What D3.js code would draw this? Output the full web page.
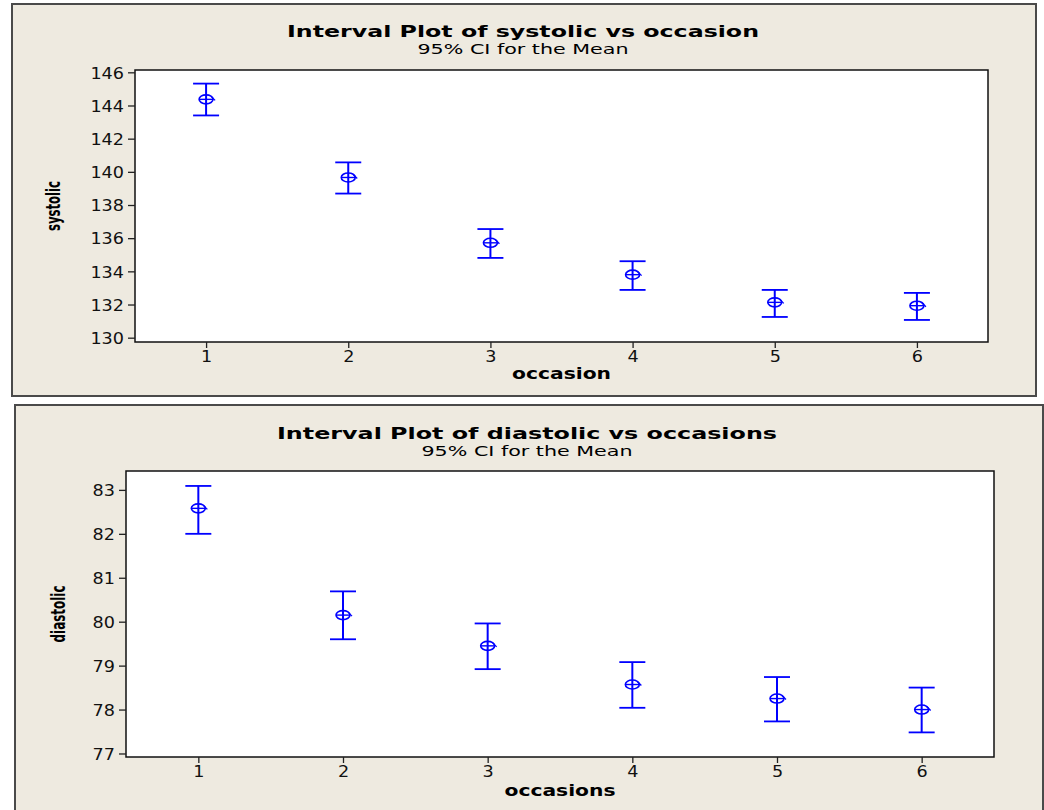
<!DOCTYPE html>
<html>
<head>
<meta charset="utf-8">
<script src="https://cdn.jsdelivr.net/npm/d3@7"></script>
<style>
  body { margin: 0; background: #ffffff; }
  svg { display: block; }
  .tick text { font-family: "DejaVu Sans", Verdana, sans-serif; font-size: 16px; fill: #111; }
</style>
</head>
<body>
<div id="chart"></div>
<script>
// occasions on the x axis
const occasions = [1, 2, 3, 4, 5, 6];

// systolic: mean and 95% CI limits
const sysMean  = [144.37, 139.66, 135.72, 133.80, 132.13, 131.93];
const sysLower = [143.40, 138.69, 134.81, 132.88, 131.25, 131.07];
const sysUpper = [145.32, 140.57, 136.55, 134.61, 132.88, 132.70];
const sysTicks = [130, 132, 134, 136, 138, 140, 142, 144, 146];

// diastolic: mean and 95% CI limits
const diaMean  = [82.58, 80.15, 79.45, 78.57, 78.25, 78.00];
const diaLower = [82.00, 79.60, 78.92, 78.04, 77.73, 77.48];
const diaUpper = [83.09, 80.69, 79.96, 79.08, 78.74, 78.50];
const diaTicks = [77, 78, 79, 80, 81, 82, 83];

const width = 1044, height = 810;
const blue = "#0000ff";

const svg = d3.select("#chart")
    .append("svg")
    .attr("width", width)
    .attr("height", height);

// Title Stretch
// Description widens text horizontally (the source picture is wider than the font)
function stretch(sel, k) {
    sel.each(function() {
        const l = this.getComputedTextLength();
        d3.select(this)
            .attr("textLength", l * k)
            .attr("lengthAdjust", "spacingAndGlyphs");
    });
}

// Title Interval Panel
// Description draws one framed Minitab-style interval plot
function intervalPanel(attr) {

    const g = svg.append("g");

    // outer frame
    g.append("rect")
        .attr("x", attr.frame.x)
        .attr("y", attr.frame.y)
        .attr("width", attr.frame.w)
        .attr("height", attr.frame.h)
        .attr("fill", "#eeeae0")
        .attr("stroke", "#4a4a4a")
        .attr("stroke-width", 2);

    const p = attr.plot;

    // titles
    g.append("text")
        .attr("x", attr.titleX)
        .attr("y", attr.titleY)
        .attr("text-anchor", "middle")
        .attr("textLength", attr.titleW)
        .attr("lengthAdjust", "spacingAndGlyphs")
        .style("font-family", "'DejaVu Sans', Verdana, sans-serif")
        .style("font-weight", "bold")
        .style("font-size", "15.5px")
        .text(attr.title);

    g.append("text")
        .attr("x", attr.titleX)
        .attr("y", attr.titleY + 17)
        .attr("text-anchor", "middle")
        .attr("textLength", 211)
        .attr("lengthAdjust", "spacingAndGlyphs")
        .style("font-family", "'DejaVu Sans', Verdana, sans-serif")
        .style("font-size", "14px")
        .text("95% CI for the Mean");

    // scales
    const xScale = d3.scaleLinear()
        .domain([0.5, 6.5])
        .range([p.left, p.right]);

    const yScale = d3.scaleLinear()
        .domain(attr.yDomain)
        .range([p.bottom, p.top]);

    // plot area
    g.append("rect")
        .attr("x", p.left)
        .attr("y", p.top)
        .attr("width", p.right - p.left)
        .attr("height", p.bottom - p.top)
        .attr("fill", "white")
        .attr("stroke", "#111")
        .attr("stroke-width", 1.5);

    // axes
    const xAxis = g.append("g")
        .attr("transform", `translate(0,${p.bottom})`)
        .call(d3.axisBottom(xScale).tickValues(occasions).tickSize(6).tickPadding(3).tickFormat(d3.format("d")));

    const yAxis = g.append("g")
        .attr("transform", `translate(${p.left},0)`)
        .call(d3.axisLeft(yScale).tickValues(attr.yTicks).tickSize(7).tickPadding(4).tickFormat(d3.format("d")));

    [xAxis, yAxis].forEach(function(a) {
        a.select(".domain").remove();
        a.selectAll(".tick line").attr("stroke", "#222").attr("stroke-width", 1.3);
        stretch(a.selectAll(".tick text"), 1.1);
    });
    yAxis.selectAll(".tick text").attr("dy", "0.36em");

    // axis labels
    g.append("text")
        .attr("x", (p.left + p.right) / 2)
        .attr("y", attr.xLabY)
        .attr("text-anchor", "middle")
        .attr("textLength", attr.xLabW)
        .attr("lengthAdjust", "spacingAndGlyphs")
        .style("font-family", "'DejaVu Sans', Verdana, sans-serif")
        .style("font-weight", "bold")
        .style("font-size", "15px")
        .text(attr.xLab);

    g.append("text")
        .attr("transform", `translate(${attr.yLabX},${(p.top + p.bottom) / 2}) rotate(-90)`)
        .attr("text-anchor", "middle")
        .attr("textLength", attr.yLabW)
        .attr("lengthAdjust", "spacingAndGlyphs")
        .style("font-family", "'DejaVu Sans Condensed', 'Liberation Sans Narrow', sans-serif")
        .style("font-weight", "bold")
        .style("font-size", "20px")
        .text(attr.yLab);

    // intervals
    const rows = occasions.map(function(d, i) {
        return {occ: d, mean: attr.mean[i], lo: attr.lower[i], hi: attr.upper[i]};
    });

    const marks = g.selectAll(".interval")
        .data(rows)
        .enter()
        .append("g")
        .attr("class", "interval")
        .attr("stroke", blue)
        .attr("fill", "none");

    marks.append("line")
        .attr("x1", function(d) { return xScale(d.occ); })
        .attr("x2", function(d) { return xScale(d.occ); })
        .attr("y1", function(d) { return yScale(d.lo); })
        .attr("y2", function(d) { return yScale(d.hi); })
        .attr("stroke-width", 2);

    ["lo", "hi"].forEach(function(k) {
        marks.append("line")
            .attr("x1", function(d) { return xScale(d.occ) - 13; })
            .attr("x2", function(d) { return xScale(d.occ) + 13; })
            .attr("y1", function(d) { return yScale(d[k]); })
            .attr("y2", function(d) { return yScale(d[k]); })
            .attr("stroke-width", 1.8);
    });

    marks.append("ellipse")
        .attr("cx", function(d) { return xScale(d.occ); })
        .attr("cy", function(d) { return yScale(d.mean); })
        .attr("rx", 7)
        .attr("ry", 4.5)
        .attr("stroke-width", 1.6);

    marks.append("line")
        .attr("x1", function(d) { return xScale(d.occ) - 7; })
        .attr("x2", function(d) { return xScale(d.occ) + 7; })
        .attr("y1", function(d) { return yScale(d.mean); })
        .attr("y2", function(d) { return yScale(d.mean); })
        .attr("stroke-width", 1.4);

    // small tail on the right of each mean symbol
    marks.append("path")
        .attr("d", function(d) {
            const x = xScale(d.occ), y = yScale(d.mean);
            return `M${x + 5},${y - 3} L${x + 9},${y + 1}`;
        })
        .attr("stroke-width", 1.3);
}

intervalPanel({
    frame: {x: 12, y: 4, w: 1024, h: 392},
    plot: {left: 135, right: 988, top: 70, bottom: 342},
    yDomain: [129.74, 146.14],
    yTicks: sysTicks,
    mean: sysMean, lower: sysLower, upper: sysUpper,
    title: "Interval Plot of systolic vs occasion",
    titleX: 523, titleY: 37, titleW: 472,
    xLab: "occasion", xLabY: 379, xLabW: 99,
    yLab: "systolic", yLabX: 60, yLabW: 50
});

intervalPanel({
    frame: {x: 15, y: 405, w: 1028, h: 420},
    plot: {left: 126, right: 994, top: 471, bottom: 757},
    yDomain: [76.92, 83.43],
    yTicks: diaTicks,
    mean: diaMean, lower: diaLower, upper: diaUpper,
    title: "Interval Plot of diastolic vs occasions",
    titleX: 527, titleY: 439, titleW: 500,
    xLab: "occasions", xLabY: 796, xLabW: 111,
    yLab: "diastolic", yLabX: 65, yLabW: 57
});
</script>
</body>
</html>
